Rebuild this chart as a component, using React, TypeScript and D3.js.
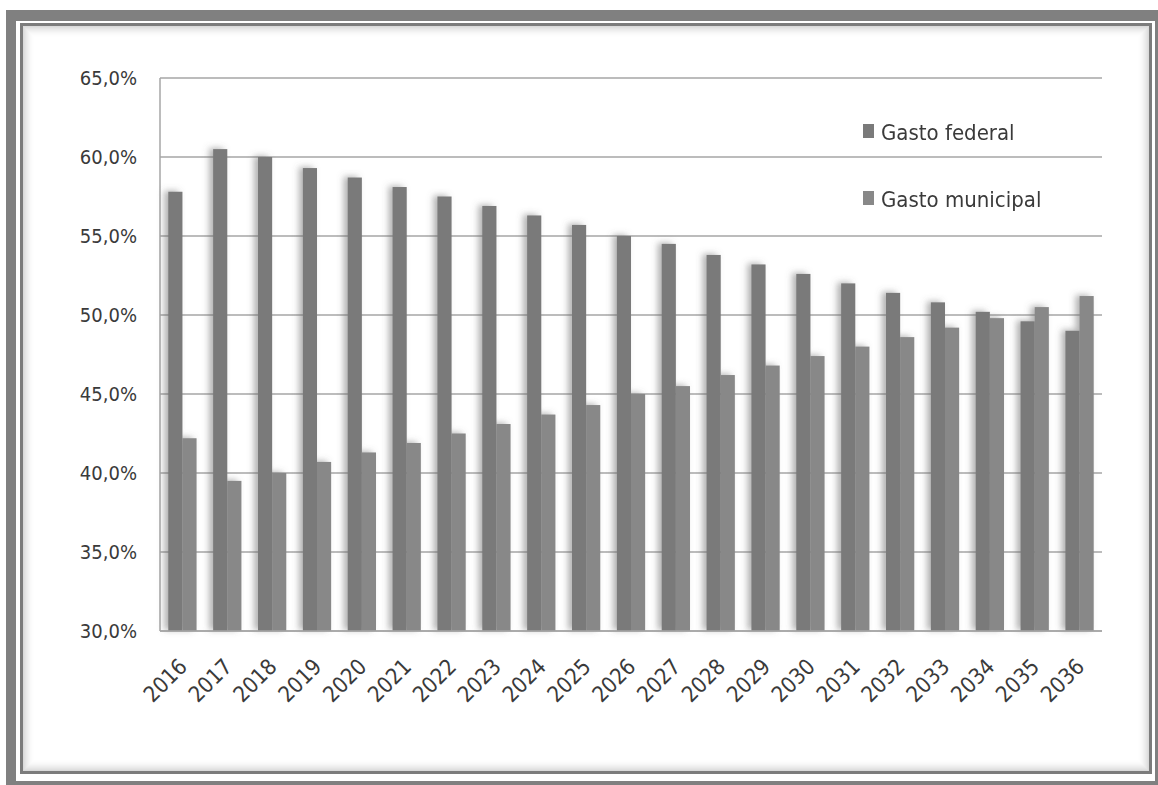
import React from "react";
import * as d3 from "d3";

const years = ["2016","2017","2018","2019","2020","2021","2022","2023","2024","2025","2026","2027","2028","2029","2030","2031","2032","2033","2034","2035","2036"];
const gastoFederal = [57.8,60.5,60.0,59.3,58.7,58.1,57.5,56.9,56.3,55.7,55.0,54.5,53.8,53.2,52.6,52.0,51.4,50.8,50.2,49.6,49.0];
const gastoMunicipal = [42.2,39.5,40.0,40.7,41.3,41.9,42.5,43.1,43.7,44.3,45.0,45.5,46.2,46.8,47.4,48.0,48.6,49.2,49.8,50.5,51.2];
const yTicks = [30,35,40,45,50,55,60,65];
const seriesNames = ["Gasto federal","Gasto municipal"];
const seriesColors = ["#7a7a7a","#888888"];

const W = 1158, H = 785;
const FONT = "'DejaVu Sans Condensed', 'DejaVu Sans', sans-serif";

export default function App() {
  const x0 = d3.scaleBand<string>().domain(years).range([160, 1102]).paddingInner(0.37).paddingOuter(0.185);
  const x1 = d3.scaleBand<string>().domain(seriesNames).range([0, x0.bandwidth()]).padding(0);
  const y = d3.scaleLinear().domain([30, 65]).range([631, 78]);
  const fmt = (v: number) => d3.format(".1f")(v).replace(".", ",") + "%";
  const series = [gastoFederal, gastoMunicipal];

  const shadowSteps = d3.range(12);

  return (
    <svg width={W} height={H} style={{ position: "absolute", left: 0, top: 0, background: "#fff", display: "block" }} fontFamily={FONT}>
      <defs>
        <filter id="barShadow" x="-60%" y="-5%" width="200%" height="110%">
          <feDropShadow dx={-4} dy={-1} stdDeviation={3} floodColor="#666" floodOpacity={0.5} />
        </filter>
      </defs>
      <rect x={0} y={0} width={W} height={H} fill="#fff" />
      {/* outer frame */}
      <rect x={6} y={10} width={10} height={H} fill="#808080" />
      <rect x={6} y={10} width={W} height={11} fill="#808080" />
      <rect x={6} y={781} width={W} height={6} fill="#808080" />
      <rect x={1155} y={10} width={5} height={H} fill="#808080" />
      {/* inner frame with inner shadow */}
      {shadowSteps.map((i) => (
        <rect key={i} x={23.5 + i} y={26.5 + i} width={1125 - 2 * i} height={744 - 2 * i}
          fill="none" stroke="#7a7a7a" strokeOpacity={0.28 * Math.pow(1 - i / 12, 2)} strokeWidth={1} />
      ))}
      <rect x={21.5} y={24.5} width={1129} height={748} fill="none" stroke="#7c7c7c" strokeWidth={3} />

      {/* gridlines */}
      {yTicks.map((t) => (
        <line key={t} x1={160} x2={1102} y1={y(t)} y2={y(t)} stroke="#a6a6a6" strokeWidth={1.5} />
      ))}
      <line x1={160} x2={160} y1={y(65)} y2={y(30)} stroke="#a6a6a6" strokeWidth={1.5} />

      {/* y labels */}
      {yTicks.map((t) => (
        <text key={t} x={137} y={y(t)} dy="0.35em" textAnchor="end" fontSize={20} fill="#3a3a3a">{fmt(t)}</text>
      ))}

      {/* bars */}
      <g filter="url(#barShadow)">
        {years.map((yr, i) => (
          <g key={yr} transform={`translate(${x0(yr)},0)`}>
            {series.map((s, j) => (
              <rect key={j} x={x1(seriesNames[j])} y={y(s[i])} width={x1.bandwidth()} height={y(30) - y(s[i])} fill={seriesColors[j]} />
            ))}
          </g>
        ))}
      </g>
      <line x1={160} x2={1102} y1={y(30)} y2={y(30)} stroke="#a6a6a6" strokeWidth={1.5} />

      {/* x labels */}
      {years.map((yr) => (
        <text key={yr} transform={`translate(${(x0(yr) as number) + x0.bandwidth() / 2 + 6},668) rotate(-45)`}
          textAnchor="end" fontSize={22} fill="#3a3a3a">{yr}</text>
      ))}

      {/* legend */}
      {seriesNames.map((n, j) => (
        <g key={n} transform={`translate(863,${j === 0 ? 132 : 199})`}>
          <rect x={0} y={-8} width={11} height={14} fill={seriesColors[j]} />
          <text x={18} y={0} dy="0.35em" fontSize={22} fill="#3a3a3a">{n}</text>
        </g>
      ))}
    </svg>
  );
}
